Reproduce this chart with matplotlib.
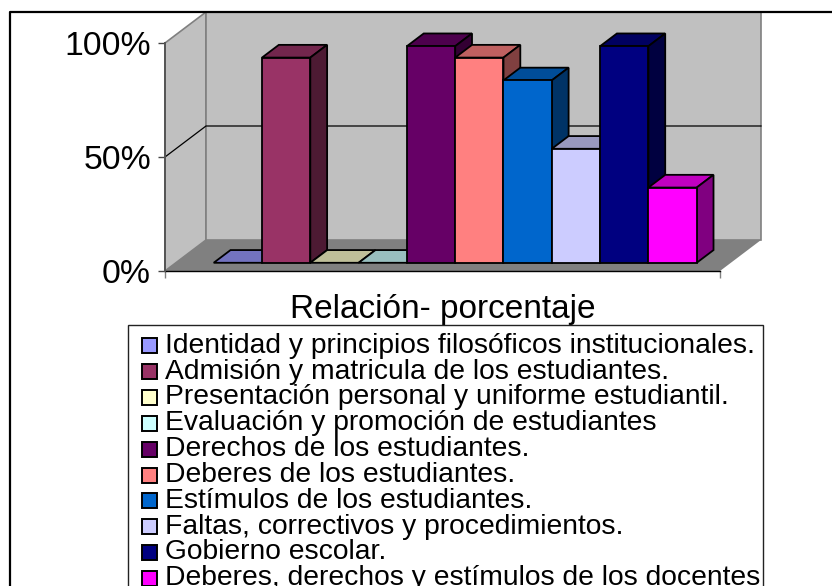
import matplotlib
matplotlib.use('Agg')
import matplotlib.pyplot as plt
from matplotlib.colors import to_rgb
from matplotlib.lines import Line2D
from matplotlib.patches import Polygon, Rectangle

plt.rcParams['font.family'] = ['Liberation Sans', 'DejaVu Sans']

labels = [
    'Identidad y principios filosóficos institucionales.',
    'Admisión y matricula de los estudiantes.',
    'Presentación personal y uniforme estudiantil.',
    'Evaluación y promoción de estudiantes',
    'Derechos de los estudiantes.',
    'Deberes de los estudiantes.',
    'Estímulos de los estudiantes.',
    'Faltas, correctivos y procedimientos.',
    'Gobierno escolar.',
    'Deberes, derechos y estímulos de los docentes',
]
values = [0, 90, 0, 0, 95, 90, 80, 50, 95, 33]
colors = ['#9999FF', '#993366', '#FFFFCC', '#CCFFFF', '#660066',
          '#FF8080', '#0066CC', '#CCCCFF', '#000080', '#FF00FF']
yticks = [0, 50, 100]
yticklabels = ['0%', '50%', '100%']
xlabel = 'Relación- porcentaje'

W, H = 832, 586
BAR_PX = 48.3
YPX = 2.28  # pixels per percent
XMAX = 555 / BAR_PX
DX = 41 / BAR_PX  # full depth of the box, in data units
DY = 31 / YPX


def proj(x, y, d):
    return (x + d * DX, y + d * DY)


def shade(color, k):
    return tuple(c * k for c in to_rgb(color))


def fx(px):
    return px / W


def fy(py):
    return (H - py) / H


fig = plt.figure(figsize=(W / 100, H / 100), dpi=100)
ax = fig.add_axes([fx(165), fy(271), 555 / W, 228 / H])
ax.set_xlim(0, XMAX)
ax.set_ylim(0, 100)
ax.patch.set_visible(False)


def poly(pts, fc, ec='none', lw=0, z=1):
    ax.add_patch(Polygon(pts, closed=True, facecolor=fc, edgecolor=ec,
                         linewidth=lw, clip_on=False, zorder=z, joinstyle='miter'))


# walls and floor
poly([proj(0, 0, 0), proj(0, 0, 1), proj(0, 100, 1), proj(0, 100, 0)], '#C0C0C0', '#808080', 1.2)
poly([proj(0, 0, 1), proj(XMAX, 0, 1), proj(XMAX, 100, 1), proj(0, 100, 1)], '#C0C0C0', '#808080', 1.2)
poly([proj(0, 0, 0), proj(XMAX, 0, 0), proj(XMAX, 0, 1), proj(0, 0, 1)], '#808080')

# gridline at 50%
ax.plot(*zip(proj(0, 50, 0), proj(0, 50, 1), proj(XMAX, 50, 1)),
        color='black', lw=0.9, clip_on=False, zorder=2)

# bars
d0, d1 = 0.265, 0.675
x0 = (213.7 - 165) / BAR_PX - d0 * DX
for i, (val, col) in enumerate(zip(values, colors)):
    xl, xr = x0 + i, x0 + i + 1
    z = 3 + i * 0.1
    poly([proj(xl, val, d0), proj(xr, val, d0), proj(xr, val, d1), proj(xl, val, d1)],
         shade(col, 0.75), 'black', 1.3, z)
    if val > 0:
        poly([proj(xr, 0, d0), proj(xr, 0, d1), proj(xr, val, d1), proj(xr, val, d0)],
             shade(col, 0.5), 'black', 1.3, z)
        poly([proj(xl, 0, d0), proj(xr, 0, d0), proj(xr, val, d0), proj(xl, val, d0)],
             col, 'black', 1.3, z)

# axes
for s in ('top', 'right'):
    ax.spines[s].set_visible(False)
ax.spines['left'].set_color('#555555')
ax.spines['left'].set_linewidth(1.4)
ax.spines['bottom'].set_color('black')
ax.spines['bottom'].set_linewidth(1.0)
ax.spines['left'].set_zorder(5)
ax.spines['bottom'].set_zorder(2.5)
ax.set_yticks(yticks, yticklabels, fontsize=24.3)
ax.set_xticks([0, XMAX], ['', ''])
ax.tick_params(axis='y', length=5, width=1, color='#444444', pad=5)
ax.tick_params(axis='x', length=5, width=1, color='#808080')
ax.set_xlabel(xlabel, fontsize=24, labelpad=8)

# legend box runs off the bottom of the picture
fig.add_artist(Rectangle((fx(127.5), fy(H + 10)), 635.5 / W, (H + 10 - 324.5) / H,
                         transform=fig.transFigure, facecolor='white',
                         edgecolor='#222222', linewidth=1.0, zorder=3))
for i, (name, col) in enumerate(zip(labels, colors)):
    base = 352.7 + i * 25.83
    fig.add_artist(Rectangle((fx(141.5), fy(base + 0.7)), 15 / W, 15 / H,
                             transform=fig.transFigure, facecolor=col,
                             edgecolor='black', linewidth=1.4, zorder=4))
    fig.text(fx(165), fy(base), name, fontsize=20.35, va='baseline', ha='left', zorder=5)

# outer chart border, only left and top fall inside the picture
fig.add_artist(Line2D([fx(9.5), fx(9.5), 1], [0, fy(11.5), fy(11.5)],
                      color='black', lw=1.6, zorder=10))

fig.savefig('out.png', dpi=100)
